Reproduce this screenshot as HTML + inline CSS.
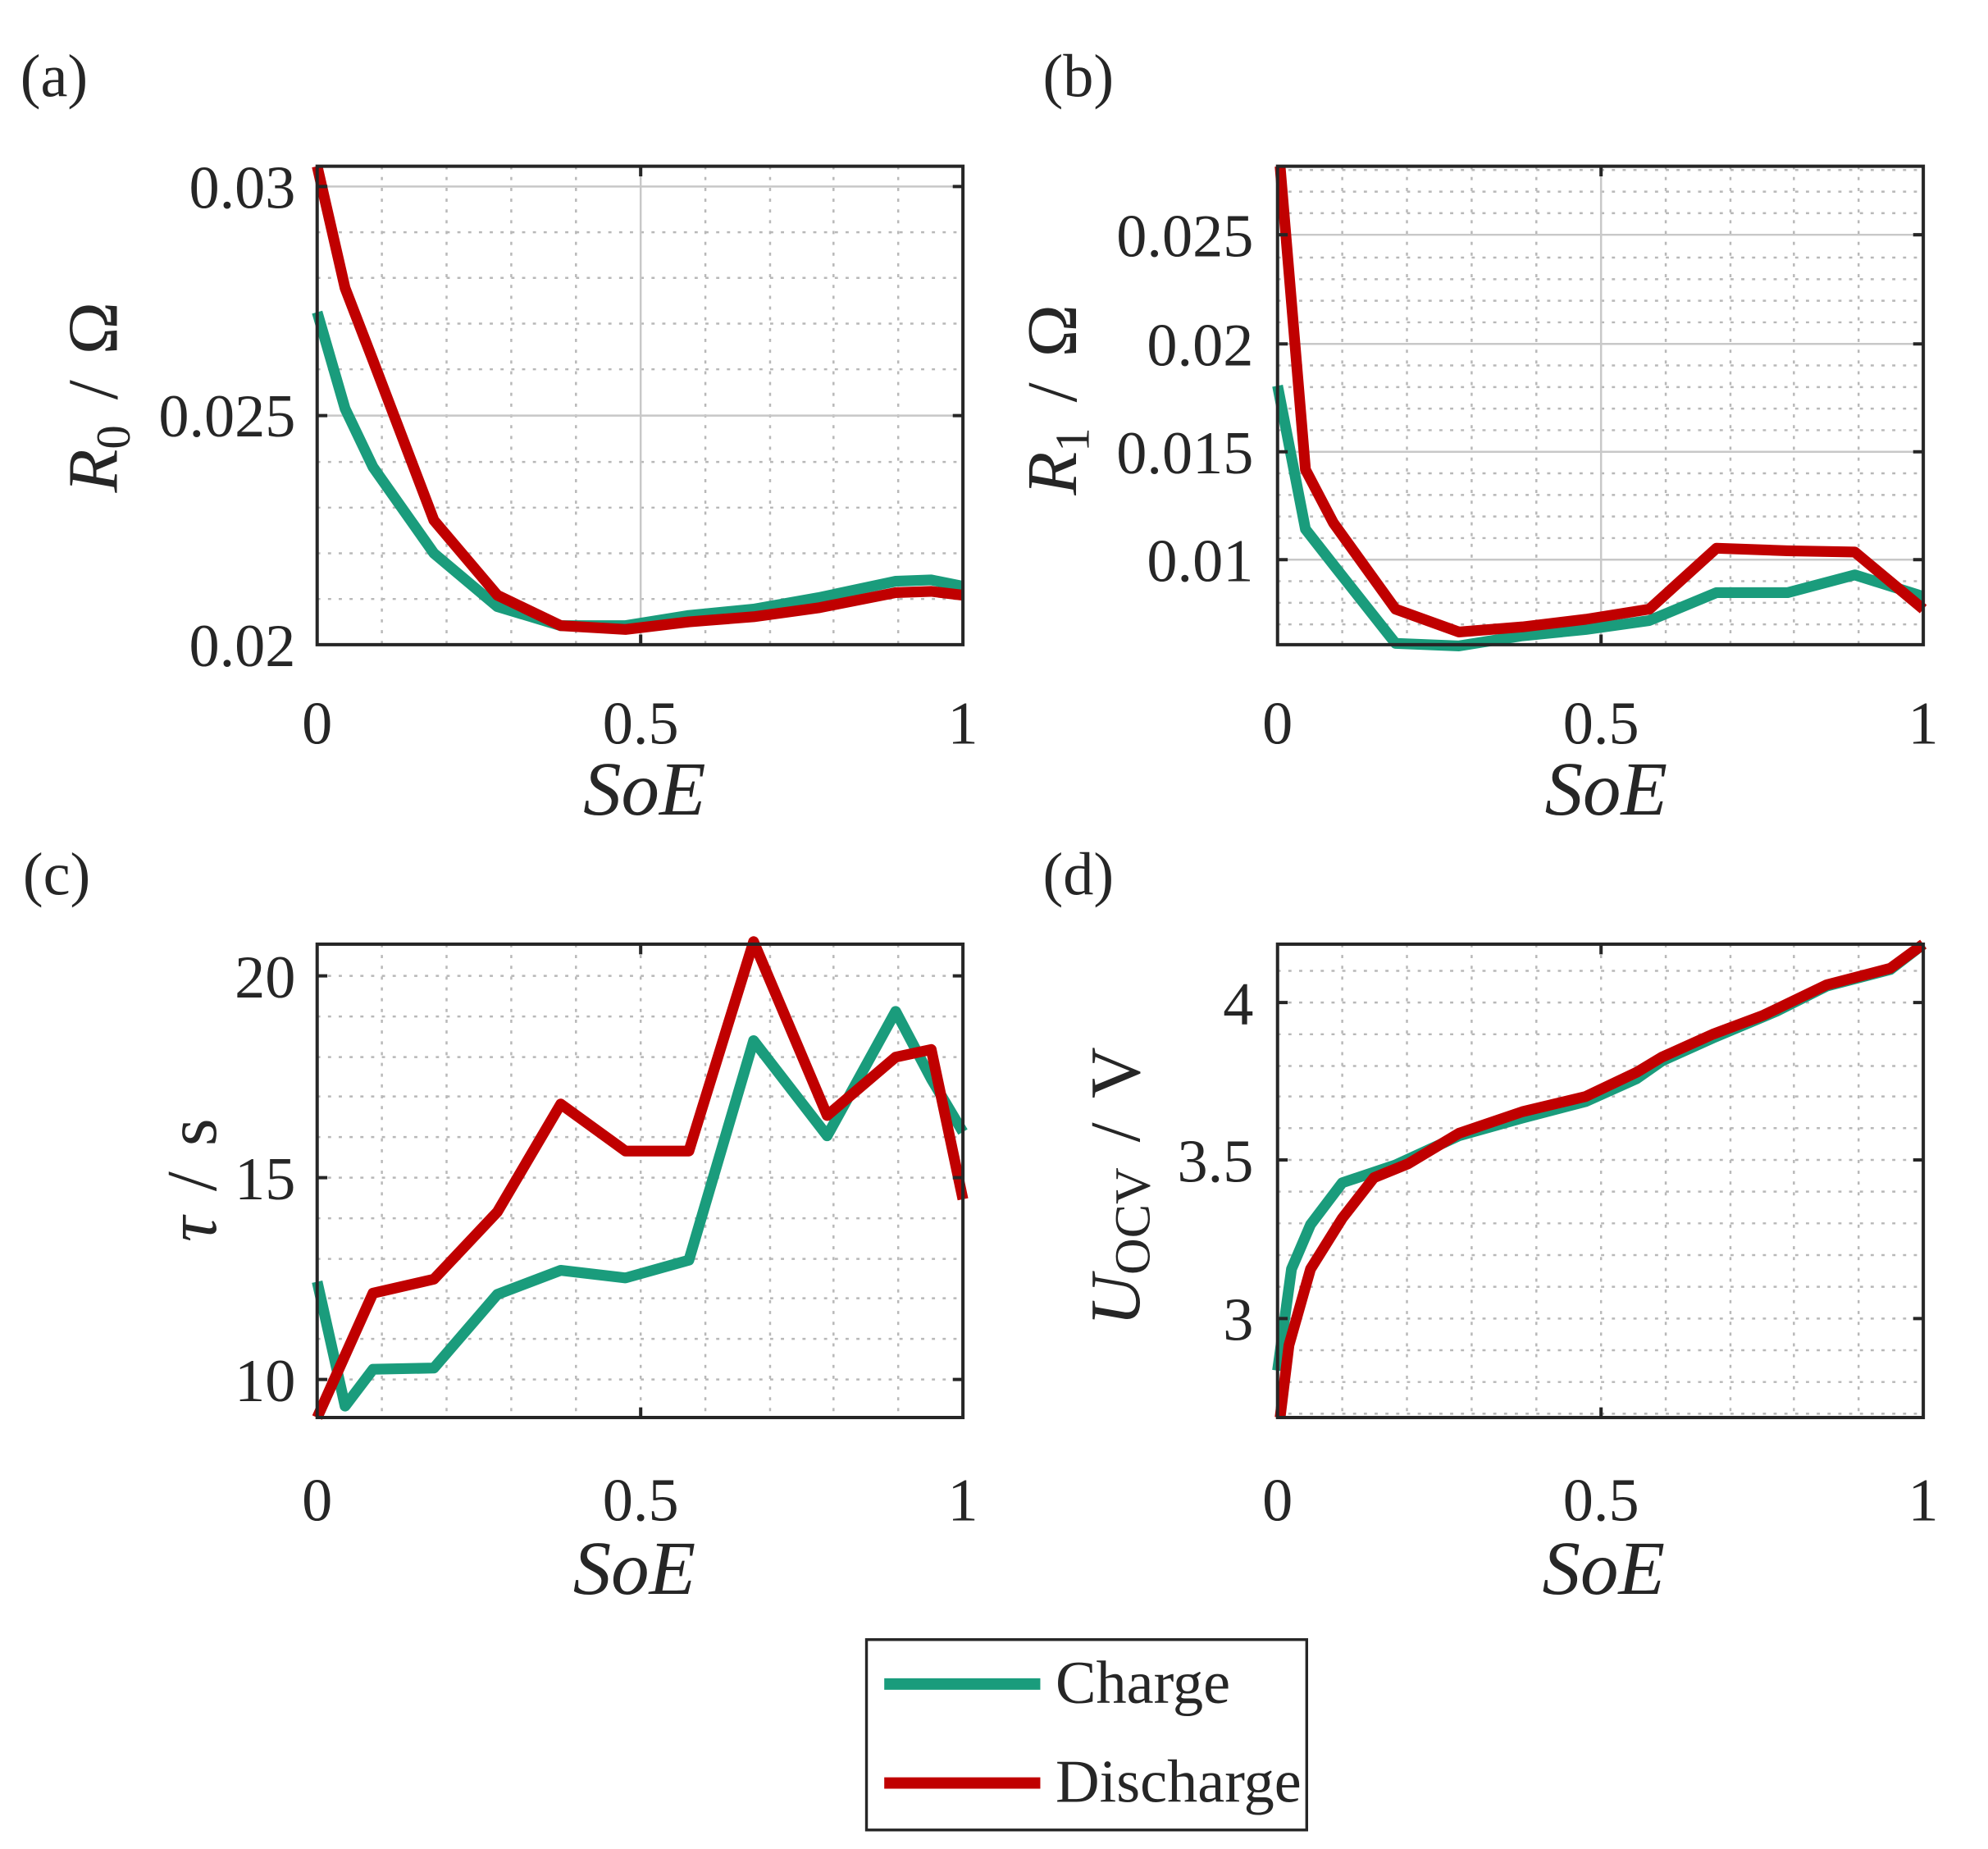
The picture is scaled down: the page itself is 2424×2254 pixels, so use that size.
<!DOCTYPE html>
<html><head><meta charset="utf-8"><style>
html,body{margin:0;padding:0;background:#fff;}
svg{display:block;}
text{font-family:"Liberation Serif",serif;fill:#262626;}
.t{font-size:48px;}
.g{stroke:#b8b8b8;stroke-width:1.6;stroke-dasharray:2.5 6;fill:none;}
.m{stroke:#c8c8c8;stroke-width:1.6;fill:none;}
.ax{stroke:#262626;stroke-width:2.6;fill:none;}
.c{stroke:#1a9c7c;stroke-width:8.5;fill:none;stroke-linejoin:round;}
.r{stroke:#c00000;stroke-width:8.5;fill:none;stroke-linejoin:round;}
.yl{font-size:56px;word-spacing:6px;}
.xl{font-size:60px;font-style:italic;}
</style></head><body>
<svg width="2424" height="2254" viewBox="0 0 1567 1457" preserveAspectRatio="none" xmlns="http://www.w3.org/2000/svg">
<rect width="1567" height="1457" fill="#fff"/>

<!-- Panel a -->
<text x="16" y="76" class="t">(a)</text>
<g class="g">
<path d="M301 131V508M352 131V508M403 131V508M454 131V508M556 131V508M607 131V508M657 131V508M708 131V508"/>
<path d="M250 472H759M250 436H759M250 400H759M250 364H759M250 291H759M250 255H759M250 219H759M250 183H759"/>
</g>
<path class="m" d="M505 131V508M250 327.5H759M250 147H759"/>
<polyline class="c" points="250,246 272,322 294,368 342,436 392,478 442,493 493,493 543,485 594,480 645,471 706,458 734,457 759,462"/>
<polyline class="r" points="250,131 272,227 294,284 342,410 392,469 442,493 493,496 543,490 594,486 645,479 706,467 734,466 759,469"/>
<rect class="ax" x="250" y="131" width="509" height="377"/>
<path class="ax" d="M505 508v-8M505 131v8M250 327.5h8M759 327.5h-8M250 147h8M759 147h-8"/>
<text x="233" y="164" class="t" text-anchor="end">0.03</text>
<text x="233" y="344" class="t" text-anchor="end">0.025</text>
<text x="233" y="525" class="t" text-anchor="end">0.02</text>
<text x="250" y="586" class="t" text-anchor="middle">0</text>
<text x="505" y="586" class="t" text-anchor="middle">0.5</text>
<text x="759" y="586" class="t" text-anchor="middle">1</text>
<text x="508" y="642" class="xl" text-anchor="middle">SoE</text>
<text transform="translate(92,313) rotate(-90)" text-anchor="middle" class="yl"><tspan font-style="italic">R</tspan><tspan font-size="38" dy="10">0</tspan><tspan dy="-10"> / Ω</tspan></text>

<!-- Panel b -->
<text x="822" y="76" class="t">(b)</text>
<g class="g">
<path d="M1058 131V508M1109 131V508M1160 131V508M1211 131V508M1313 131V508M1364 131V508M1414 131V508M1465 131V508"/>
<path d="M1007 492H1516M1007 475H1516M1007 458H1516M1007 424H1516M1007 407H1516M1007 390H1516M1007 373H1516M1007 339H1516M1007 322H1516M1007 305H1516M1007 288H1516M1007 254H1516M1007 237H1516M1007 220H1516M1007 203H1516M1007 168H1516M1007 151H1516M1007 134H1516"/>
</g>
<path class="m" d="M1262 131V508M1007 441H1516M1007 356H1516M1007 271H1516M1007 185H1516"/>
<polyline class="c" points="1007,304 1029,417 1051,445 1100,507 1150,509 1200,501 1250,496 1300,489 1353,467 1409,467 1462,453 1516,470"/>
<polyline class="r" points="1009,131 1029,370 1051,412 1100,480 1150,498 1200,494 1250,488 1300,480 1353,432 1409,434 1462,435 1516,480"/>
<rect class="ax" x="1007" y="131" width="509" height="377"/>
<path class="ax" d="M1262 508v-8M1262 131v8M1007 441h8M1516 441h-8M1007 356h8M1516 356h-8M1007 271h8M1516 271h-8M1007 185h8M1516 185h-8"/>
<text x="988" y="202" class="t" text-anchor="end">0.025</text>
<text x="988" y="288" class="t" text-anchor="end">0.02</text>
<text x="988" y="373" class="t" text-anchor="end">0.015</text>
<text x="988" y="458" class="t" text-anchor="end">0.01</text>
<text x="1007" y="586" class="t" text-anchor="middle">0</text>
<text x="1262" y="586" class="t" text-anchor="middle">0.5</text>
<text x="1516" y="586" class="t" text-anchor="middle">1</text>
<text x="1266" y="642" class="xl" text-anchor="middle">SoE</text>
<text transform="translate(848,315) rotate(-90)" text-anchor="middle" class="yl"><tspan font-style="italic">R</tspan><tspan font-size="38" dy="10">1</tspan><tspan dy="-10"> / Ω</tspan></text>

<!-- Panel c -->
<text x="18" y="705" class="t">(c)</text>
<g class="g">
<path d="M301 744V1117M352 744V1117M403 744V1117M454 744V1117M505 744V1117M556 744V1117M607 744V1117M657 744V1117M708 744V1117"/>
<path d="M250 1087H759M250 1055H759M250 1023H759M250 992H759M250 960H759M250 928H759M250 896H759M250 864H759M250 833H759M250 801H759M250 769H759"/>
</g>
<polyline class="c" points="250,1010 272,1108 294,1079 342,1078 392,1020 442,1001 493,1007 543,993 594,820 652,895 706,797 734,850 759,892"/>
<polyline class="r" points="250,1117 294,1019 342,1008 392,955 442,870 493,907 543,907 594,742 652,879 706,833 734,827 759,945"/>
<rect class="ax" x="250" y="744" width="509" height="373"/>
<path class="ax" d="M505 1117v-8M505 744v8M250 769h8M759 769h-8M250 928h8M759 928h-8M250 1087h8M759 1087h-8"/>
<text x="233" y="786" class="t" text-anchor="end">20</text>
<text x="233" y="945" class="t" text-anchor="end">15</text>
<text x="233" y="1104" class="t" text-anchor="end">10</text>
<text x="250" y="1198" class="t" text-anchor="middle">0</text>
<text x="505" y="1198" class="t" text-anchor="middle">0.5</text>
<text x="759" y="1198" class="t" text-anchor="middle">1</text>
<text x="500" y="1256" class="xl" text-anchor="middle">SoE</text>
<text transform="translate(170,930) rotate(-90)" text-anchor="middle" class="yl"><tspan font-style="italic">τ</tspan><tspan> / s</tspan></text>

<!-- Panel d -->
<text x="822" y="705" class="t">(d)</text>
<g class="g">
<path d="M1058 744V1117M1109 744V1117M1160 744V1117M1211 744V1117M1262 744V1117M1313 744V1117M1364 744V1117M1414 744V1117M1465 744V1117"/>
<path d="M1007 1114H1516M1007 1089H1516M1007 1064H1516M1007 1039H1516M1007 1014H1516M1007 989H1516M1007 964H1516M1007 939H1516M1007 914H1516M1007 889H1516M1007 864H1516M1007 840H1516M1007 815H1516M1007 790H1516M1007 765H1516"/>
</g>
<polyline class="c" points="1007,1080 1018,1000 1033,965 1058,932 1100,918 1150,895 1200,881 1250,868 1290,850 1310,836 1350,818 1400,797 1440,777 1490,764 1516,744"/>
<polyline class="r" points="1009,1117 1016,1060 1033,1000 1058,960 1083,928 1110,917 1150,893 1200,876 1250,864 1290,845 1310,833 1350,815 1390,800 1440,776 1490,763 1516,744"/>
<rect class="ax" x="1007" y="744" width="509" height="373"/>
<path class="ax" d="M1262 1117v-8M1262 744v8M1007 790h8M1516 790h-8M1007 914h8M1516 914h-8M1007 1039h8M1516 1039h-8"/>
<text x="988" y="807" class="t" text-anchor="end">4</text>
<text x="988" y="931" class="t" text-anchor="end">3.5</text>
<text x="988" y="1056" class="t" text-anchor="end">3</text>
<text x="1007" y="1198" class="t" text-anchor="middle">0</text>
<text x="1262" y="1198" class="t" text-anchor="middle">0.5</text>
<text x="1516" y="1198" class="t" text-anchor="middle">1</text>
<text x="1264" y="1256" class="xl" text-anchor="middle">SoE</text>
<text transform="translate(898,935) rotate(-90)" text-anchor="middle" class="yl"><tspan font-style="italic">U</tspan><tspan font-size="40" dy="8">OCV</tspan><tspan dy="-8"> / V</tspan></text>

<!-- Legend -->
<rect x="683" y="1292" width="347" height="150" fill="#fff" stroke="#262626" stroke-width="2.2"/>
<line x1="697" y1="1327" x2="820" y2="1327" stroke="#1a9c7c" stroke-width="9"/>
<line x1="697" y1="1405" x2="820" y2="1405" stroke="#c00000" stroke-width="9"/>
<text x="832" y="1342" class="t">Charge</text>
<text x="832" y="1420" class="t">Discharge</text>
</svg>
</body></html>
